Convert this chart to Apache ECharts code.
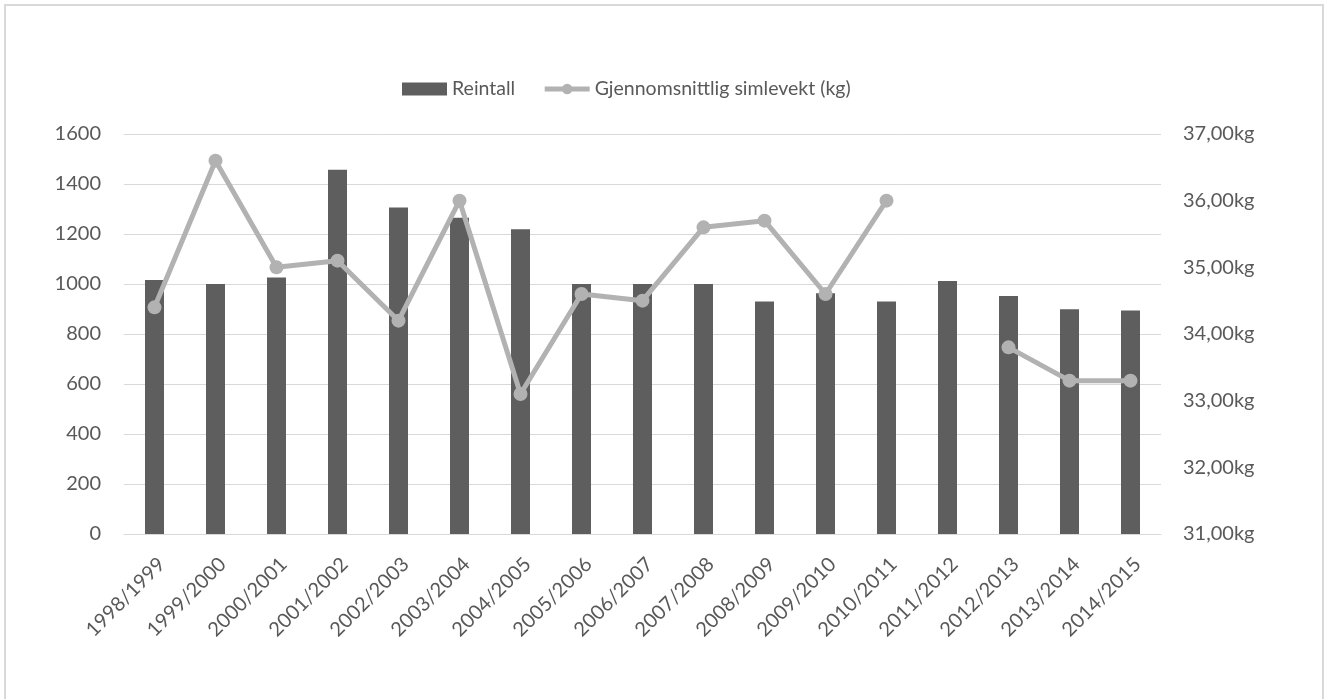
<!DOCTYPE html>
<html>
<head>
<meta charset="utf-8">
<script src="https://cdn.jsdelivr.net/npm/echarts@6/dist/echarts.min.js"></script>
<style>
html,body{margin:0;padding:0;background:#fff;}
#chart{width:1325px;height:699px;}
</style>
</head>
<body>
<div id="chart"></div>
<script>
const categories = ['1998/1999','1999/2000','2000/2001','2001/2002','2002/2003','2003/2004','2004/2005','2005/2006','2006/2007','2007/2008','2008/2009','2009/2010','2010/2011','2011/2012','2012/2013','2013/2014','2014/2015'];
const reintall = [1016, 1000, 1026, 1457, 1306, 1265, 1219, 1000, 1000, 1000, 930, 963, 930, 1012, 952, 899, 894];
const simlevekt = [34.4, 36.6, 35.0, 35.1, 34.2, 36.0, 33.1, 34.6, 34.5, 35.6, 35.7, 34.6, 36.0, null, 33.8, 33.3, 33.3];
const leftTicks = {min: 0, max: 1600, interval: 200};
const rightTicks = {min: 31, max: 37, interval: 1};

const FONT = 'Lato';
const TXT = '#595959';
const chart = echarts.init(document.getElementById('chart'), null, {renderer: 'canvas'});
chart.setOption({
  backgroundColor: '#ffffff',
  animation: false,
  graphic: [{
    type: 'rect', shape: {x: 5, y: 5, width: 1318, height: 710},
    style: {fill: 'none', stroke: '#d9d9d9', lineWidth: 2}
  }],
  legend: {
    left: 397, top: 74,
    itemGap: 27, itemWidth: 45, itemHeight: 13,
    textStyle: {color: TXT, fontFamily: FONT, fontSize: 19.5},
    data: [
      {name: 'Reintall', icon: 'rect'},
      {name: 'Gjennomsnittlig simlevekt (kg)', lineStyle: {width: 5, color: '#b2b2b2'}, itemStyle: {color: '#b2b2b2'}}
    ]
  },
  grid: {left: 124, right: 164, top: 134, bottom: 165, containLabel: false},
  xAxis: {
    type: 'category', data: categories,
    axisLine: {lineStyle: {color: '#d9d9d9', width: 1}},
    axisTick: {show: false},
    axisLabel: {rotate: 45, align: 'right', verticalAlign: 'top', color: TXT, fontFamily: FONT, fontSize: 20, margin: 20, interval: 0}
  },
  yAxis: [{
    type: 'value', min: leftTicks.min, max: leftTicks.max, interval: leftTicks.interval,
    axisLine: {show: false}, axisTick: {show: false},
    splitLine: {lineStyle: {color: '#d9d9d9', width: 1}},
    axisLabel: {color: TXT, fontFamily: FONT, fontSize: 20, margin: 23, formatter: v => String(v)}
  }, {
    type: 'value', min: rightTicks.min, max: rightTicks.max, interval: rightTicks.interval,
    axisLine: {show: false}, axisTick: {show: false}, splitLine: {show: false},
    axisLabel: {color: TXT, fontFamily: FONT, fontSize: 20, margin: 22,
      formatter: v => v.toFixed(2).replace('.', ',') + 'kg'}
  }],
  series: [{
    name: 'Reintall', type: 'bar', data: reintall, yAxisIndex: 0,
    barWidth: 19, itemStyle: {color: '#5e5e5e'}
  }, {
    name: 'Gjennomsnittlig simlevekt (kg)', type: 'line', data: simlevekt, yAxisIndex: 1,
    connectNulls: false, symbol: 'circle', symbolSize: 14,
    lineStyle: {color: '#b2b2b2', width: 5},
    itemStyle: {color: '#b2b2b2'}
  }]
});
</script>
</body>
</html>
